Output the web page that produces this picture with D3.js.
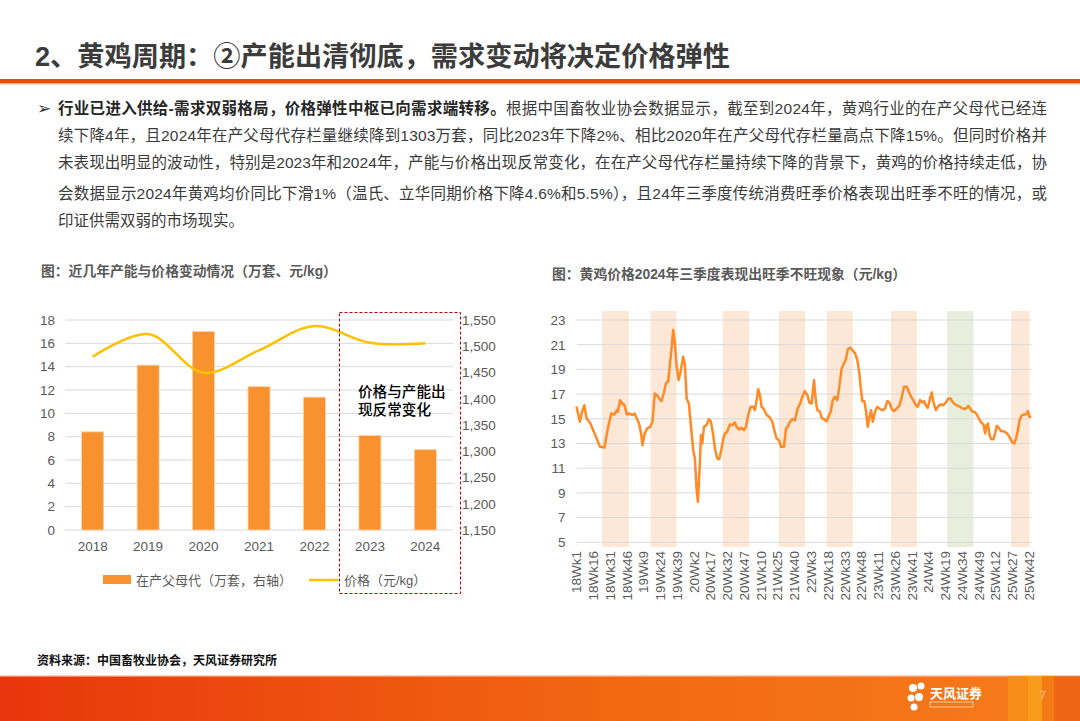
<!DOCTYPE html>
<html><head><meta charset="utf-8">
<script src="https://cdn.jsdelivr.net/npm/d3@7"></script>
<style>
body{margin:0;background:#fff}
svg{display:block}
text{font-family:"Liberation Sans","Noto Sans CJK SC",sans-serif}
</style></head><body><svg id="c" width="1080" height="721"></svg>
<script>
// ---------- DATA ----------
const years = ["2018","2019","2020","2021","2022","2023","2024"];
const parentStock = [1337,1464,1528,1423,1403,1330,1303];      // 万套, right axis
const avgPrice = [14.85,16.8,13.48,15.4,17.48,16.05,16.0];      // 元/kg, left axis
const leftTicks = [0,2,4,6,8,10,12,14,16,18];
const rightTicks = [1150,1200,1250,1300,1350,1400,1450,1500,1550];

const weekIndex = [0,3,5,7,9,12,15,18,21,25,28,31,34,36,37,39,41,43,45,47,50,52,54,56,58,59,61,63,66,68,70,72,74,76,78,80,82,83.5,85,86.5,88,89.5,91.3,93.1,95.4,97,98.5,100.5,102.3,104.4,105.9,107.4,108.6,110.4,111.3,112.5,114,116.4,118.4,120.2,122.3,123.8,125.9,127.7,129.8,131.3,132.8,134.8,137.2,139.3,141.7,143.2,145.3,147.7,149.8,151.6,153.6,155.8,158.1,159.6,161.1,162.6,164.1,165.6,167.7,170.1,173,175.1,176.9,179,181.1,182.9,185.6,187.4,188.9,191,193,195.4,197.8,199.9,202.2,204.2,206.5,208.3,210.4,212.4,214.2,215.4,217.8,219.3,221.4,223.8,225.3,227.4,229.2,231.2,233.3,235.1,237.2,239.3,241.1,242.6,244.7,246.7,249.2,251.2,253,254.3,255.7,257.5,259,260.5,262,263.5,265,267.1,269.1,271.5,273.9,276,278.1,279.9,282,284.1,286.5,288.8,291,293,295.4,297.5,299.3,301.3,303.5,305.3,307.3,309.4,310.9,312.4,314.2,316.3,317.8,319.2,321.4,323.7,326.1,328.2,330.3,332.7,334.5,336.3,338.7,341.1,343.2,345.2,347,349.1,350.6,352.1,354.2,356,358.1,360.2,362,364,365.6,366.8,368,369.5,371,373,374.6,376,378.1,379.9,381.9,384.1,385.9,388,390,391.5,393.1,394.9,396.3,398.5,400.5,402.3,403.8,405.2,406.7];
const weeklyPrice = [16.0,14.76,15.57,16.1,15.03,14.7,14.08,13.4,12.73,12.68,14.2,15.43,15.35,15.7,15.57,16.5,16.24,16.1,15.35,15.43,15.3,15.43,15.03,14.6,13.68,12.86,13.8,14.2,14.35,14.8,17.05,16.9,16.65,16.43,17.05,17.86,18.05,19.35,20.7,22.19,21.1,19.35,18.14,18.8,20.03,19.35,16.65,16.24,14.49,12.46,11.78,9.35,8.27,11.5,13.68,13.0,14.35,14.49,14.97,14.8,13.68,12.6,11.78,11.73,12.6,13.4,13.81,13.95,14.54,14.49,14.7,14.35,14.14,14.27,14.08,14.35,15.3,15.97,15.97,15.7,16.51,17.4,16.92,15.97,15.78,15.3,15.1,14.76,14.08,13.4,13.27,12.73,12.73,14.22,14.35,14.76,14.97,14.89,15.84,16.2,16.85,17.24,16.92,16.32,16.24,18.14,16.38,15.7,15.57,15.08,14.97,14.8,15.16,15.57,16.51,16.78,16.51,17.6,19.08,19.49,19.84,20.62,20.76,20.57,20.3,19.76,18.68,17.46,16.43,16.43,15.57,14.35,15.16,15.7,14.76,15.57,15.97,15.78,15.7,15.84,16.43,16.32,15.78,15.62,15.84,16.05,16.78,17.6,17.6,17.14,16.78,16.51,16.1,15.97,16.51,16.32,16.43,16.1,15.89,16.65,17.14,16.38,15.7,16.05,16.16,16.1,16.32,16.65,16.65,16.38,16.16,16.05,15.97,15.84,15.78,15.89,16.05,15.84,15.57,15.57,15.35,14.97,14.7,14.54,13.81,14.49,14.62,13.68,13.35,13.35,13.89,14.43,14.22,14.0,14.0,13.89,13.73,13.4,13.08,13.0,13.4,14.08,14.89,15.3,15.35,15.38,15.62,15.16,15.16];
const weekTickLabels = ["18Wk1","18Wk16","18Wk31","18Wk46","19Wk9","19Wk24","19Wk39","20Wk2","20Wk17","20Wk32","20Wk47","21Wk10","21Wk25","21Wk40","22Wk3","22Wk18","22Wk33","22Wk48","23Wk11","23Wk26","23Wk41","24Wk4","24Wk19","24Wk34","24Wk49","25Wk12","25Wk27","25Wk42"];
const weekTickStep = 15;
const rightYTicks = [5,7,9,11,13,15,17,19,21,23];
const seasonBands = [[22.9,46.8],[66.2,89.5],[130.7,154.3],[181.1,204.4],[223.8,247.1],[281.4,304.4],[331.5,355.1],[388.8,405.2]];
const seasonBandType = ["peak","peak","peak","peak","peak","peak","weak","peak"];

const titleText = "2、黄鸡周期：②产能出清彻底，需求变动将决定价格弹性";
const paraLines = [
  [["行业已进入供给-需求双弱格局，价格弹性中枢已向需求端转移。",true],["根据中国畜牧业协会数据显示，截至到2024年，黄鸡行业的在产父母代已经连",false]],
  [["续下降4年，且2024年在产父母代存栏量继续降到1303万套，同比2023年下降2%、相比2020年在产父母代存栏量高点下降15%。但同时价格并",false]],
  [["未表现出明显的波动性，特别是2023年和2024年，产能与价格出现反常变化，在在产父母代存栏量持续下降的背景下，黄鸡的价格持续走低，协",false]],
  [["会数据显示2024年黄鸡均价同比下滑1%（温氏、立华同期价格下降4.6%和5.5%），且24年三季度传统消费旺季价格表现出旺季不旺的情况，或",false]],
  [["印证供需双弱的市场现实。",false]]
];

// ---------- DRAW ----------
const svg = d3.select("#c");
svg.append("rect").attr("width",1080).attr("height",721).attr("fill","#fff");

// Title
svg.append("text").attr("x",35).attr("y",57).attr("dominant-baseline","central")
  .attr("font-family","Noto Sans CJK SC").attr("font-weight",700).attr("font-size",27)
  .attr("fill","#3c3c3c").attr("textLength",695).attr("lengthAdjust","spacingAndGlyphs").text(titleText);
svg.append("rect").attr("x",0).attr("y",79).attr("width",1080).attr("height",4).attr("fill","#EE4A0A");
svg.append("rect").attr("x",0).attr("y",83).attr("width",1080).attr("height",1.5).attr("fill","#F9B08C");

// Paragraph
svg.append("text").attr("x",37).attr("y",108).attr("dominant-baseline","central")
  .attr("font-size",17).attr("fill","#333").attr("font-family","DejaVu Sans").text("➢");
const lineYs = [108,135,162,193,220];
paraLines.forEach((segs,i)=>{
  const t = svg.append("text").attr("x",58).attr("y",lineYs[i]).attr("dominant-baseline","central")
    .attr("font-size",15.5).attr("fill","#3a3a3a").attr("font-family","Noto Sans CJK SC");
  if(i<4) t.attr("textLength",989).attr("lengthAdjust","spacing");
  segs.forEach(s=>t.append("tspan").attr("font-weight",s[1]?700:400).attr("fill",s[1]?"#262626":"#3a3a3a").text(s[0]));
});

// ---------- LEFT CHART ----------
const grey = "#595959";
svg.append("text").attr("x",41).attr("y",271).attr("dominant-baseline","central")
  .attr("font-size",13.8).attr("font-weight",700).attr("fill",grey).attr("font-family","Noto Sans CJK SC")
  .text("图：近几年产能与价格变动情况（万套、元/kg）");

const L = {x0:65,x1:453,yTop:320,yBot:530};
const xL = d3.scaleBand().domain(years).range([L.x0,L.x1]).paddingInner(0.603).paddingOuter(0.3);
const yL = d3.scaleLinear().domain([0,18]).range([L.yBot,L.yTop]);
const yR = d3.scaleLinear().domain([1150,1550]).range([L.yBot,L.yTop]);

svg.append("g").selectAll("line").data(leftTicks).join("line")
  .attr("x1",L.x0).attr("x2",L.x1).attr("y1",d=>yL(d)).attr("y2",d=>yL(d))
  .attr("stroke","#D9D9D9").attr("stroke-width",1);

const axL = svg.append("g").attr("transform",`translate(${L.x0},0)`)
  .call(d3.axisLeft(yL).tickValues(leftTicks).tickSize(0).tickPadding(10));
const axR = svg.append("g").attr("transform",`translate(${L.x1},0)`)
  .call(d3.axisRight(yR).tickValues(rightTicks).tickSize(0).tickPadding(9).tickFormat(d3.format(",")));
const axB = svg.append("g").attr("transform",`translate(0,${L.yBot})`)
  .call(d3.axisBottom(xL).tickSize(0).tickPadding(11));
[axL,axR,axB].forEach(a=>{a.select(".domain").remove();a.selectAll("text").attr("font-size",13.5).attr("fill",grey).attr("font-family","Liberation Sans");});

svg.append("g").selectAll("rect").data(years).join("rect")
  .attr("x",d=>xL(d)).attr("width",xL.bandwidth())
  .attr("y",(d,i)=>yR(parentStock[i])).attr("height",(d,i)=>L.yBot-yR(parentStock[i]))
  .attr("fill","#F7922F").attr("stroke","#FBD3B0").attr("stroke-width",0.8);

const lineL = d3.line().x((d,i)=>xL(years[i])+xL.bandwidth()/2).y(d=>yL(d)).curve(d3.curveCatmullRom.alpha(0.5));
svg.append("path").datum(avgPrice).attr("d",lineL).attr("fill","none").attr("stroke","#FFC000").attr("stroke-width",2.5);

// dashed box + annotation
svg.append("rect").attr("x",339.5).attr("y",312.5).attr("width",121).attr("height",281)
  .attr("fill","none").attr("stroke","#C00000").attr("stroke-width",1).attr("stroke-dasharray","3,2");
svg.append("text").attr("x",358).attr("y",392).attr("dominant-baseline","central").attr("font-size",14.6)
  .attr("font-weight",500).attr("fill","#000").attr("font-family","Noto Sans CJK SC").text("价格与产能出");
svg.append("text").attr("x",358).attr("y",410).attr("dominant-baseline","central").attr("font-size",14.6)
  .attr("font-weight",500).attr("fill","#000").attr("font-family","Noto Sans CJK SC").text("现反常变化");

// legend
svg.append("rect").attr("x",103).attr("y",575).attr("width",28).attr("height",9).attr("fill","#F7922F");
svg.append("text").attr("x",136).attr("y",580).attr("dominant-baseline","central").attr("font-size",13)
  .attr("fill",grey).attr("font-family","Noto Sans CJK SC").text("在产父母代（万套，右轴）");
svg.append("line").attr("x1",309).attr("x2",338).attr("y1",580).attr("y2",580).attr("stroke","#FFC000").attr("stroke-width",2.5);
svg.append("text").attr("x",344).attr("y",580).attr("dominant-baseline","central").attr("font-size",13)
  .attr("fill",grey).attr("font-family","Noto Sans CJK SC").text("价格（元/kg）");

// ---------- RIGHT CHART ----------
svg.append("text").attr("x",552).attr("y",274).attr("dominant-baseline","central")
  .attr("font-size",13.8).attr("font-weight",700).attr("fill",grey).attr("font-family","Noto Sans CJK SC")
  .text("图：黄鸡价格2024年三季度表现出旺季不旺现象（元/kg）");

const R = {x0:576.5,x1:1031.5,yTop:320,yBot:542.3};
const xW = d3.scaleLinear().domain([0,407]).range([R.x0,R.x1]);
const yW = d3.scaleLinear().domain([5,23]).range([R.yBot,R.yTop]);

svg.append("g").selectAll("rect").data(seasonBands).join("rect")
  .attr("x",d=>xW(d[0])).attr("width",d=>xW(d[1])-xW(d[0]))
  .attr("y",311).attr("height",236)
  .attr("fill",(d,i)=>seasonBandType[i]==="weak"?"#E7EFDC":"#FDE7D7");

svg.append("g").selectAll("line").data(rightYTicks).join("line")
  .attr("x1",R.x0).attr("x2",R.x1).attr("y1",d=>yW(d)).attr("y2",d=>yW(d))
  .attr("stroke","#D9D9D9").attr("stroke-width",1);

const axW = svg.append("g").attr("transform",`translate(${R.x0},0)`)
  .call(d3.axisLeft(yW).tickValues(rightYTicks).tickSize(0).tickPadding(11));
axW.select(".domain").remove();
axW.selectAll("text").attr("font-size",13.5).attr("fill",grey).attr("font-family","Liberation Sans");

svg.append("g").selectAll("text").data(weekTickLabels).join("text")
  .attr("transform",(d,i)=>`translate(${xW(i*weekTickStep)},551) rotate(-90)`)
  .attr("text-anchor","end").attr("dy","0.35em").attr("font-size",13.5).attr("fill",grey)
  .attr("font-family","Liberation Sans").text(d=>d);

const lineW = d3.line().x((d,i)=>xW(weekIndex[i])).y(d=>yW(d));
svg.append("path").datum(weeklyPrice).attr("d",lineW).attr("fill","none")
  .attr("stroke","#FF8A26").attr("stroke-width",2.5).attr("stroke-linejoin","round");

// ---------- FOOTER ----------
svg.append("text").attr("x",37).attr("y",661).attr("dominant-baseline","central").attr("font-size",12)
  .attr("font-weight",700).attr("fill","#111").attr("font-family","Noto Sans CJK SC").text("资料来源：中国畜牧业协会，天风证券研究所");

const defs = svg.append("defs");
const gr = defs.append("linearGradient").attr("id","fg").attr("x1","0").attr("x2","1");
gr.append("stop").attr("offset","0").attr("stop-color","#E8360C");
gr.append("stop").attr("offset","0.6").attr("stop-color","#F26A12");
gr.append("stop").attr("offset","1").attr("stop-color","#F67C1C");
svg.append("rect").attr("x",0).attr("y",676).attr("width",1080).attr("height",45).attr("fill","url(#fg)");
svg.append("rect").attr("x",0).attr("y",675).attr("width",1080).attr("height",1.5).attr("fill","#FAD2BC");
[[1008,20,"#F8901A",0.9],[1028,14,"#FBA51B",0.8],[1042,12,"#F47A16",0.9],[1054,26,"#E9580F",0.6]].forEach(s=>{
  svg.append("rect").attr("x",s[0]).attr("y",676).attr("width",s[1]).attr("height",45).attr("fill",s[2]).attr("opacity",s[3]);
});
// logo
const lg = svg.append("g").attr("fill","#fff");
[[913,688,4],[921,686,3.5],[911,698,3.5],[919,697,4],[914,707,3.5]].forEach(c=>lg.append("circle").attr("cx",c[0]).attr("cy",c[1]).attr("r",c[2]));
lg.append("text").attr("x",930).attr("y",693).attr("dominant-baseline","central").attr("font-size",13)
  .attr("font-weight",700).attr("font-family","Noto Sans CJK SC").text("天风证券");
lg.append("rect").attr("x",930).attr("y",702).attr("width",43).attr("height",5).attr("fill","none").attr("stroke","#fff").attr("stroke-width",0.6);
svg.append("text").attr("x",1040).attr("y",695).attr("dominant-baseline","central").attr("font-size",11)
  .attr("fill","#F6C9A0").text("7");
</script></body></html>
